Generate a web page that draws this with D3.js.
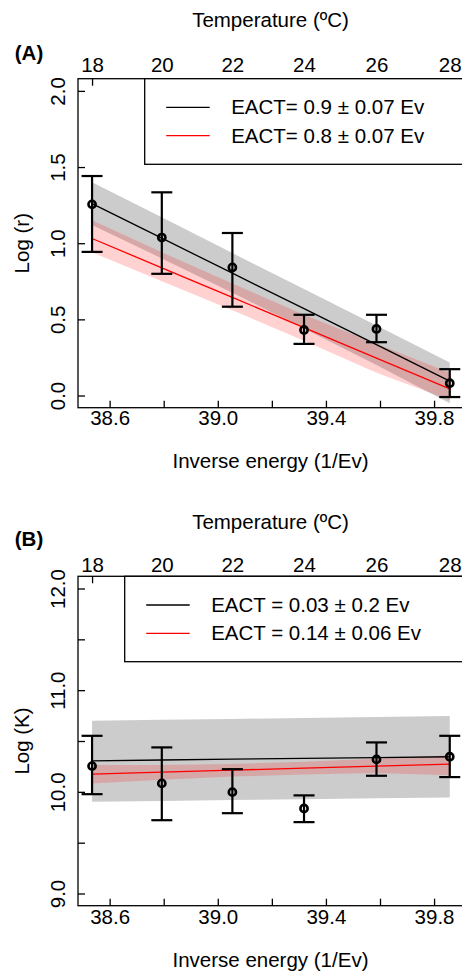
<!DOCTYPE html>
<html>
<head>
<meta charset="utf-8">
<script src="https://cdn.jsdelivr.net/npm/d3@7"></script>
<style>
  body { margin: 0; background: #fff; }
  svg { display: block; font-family: "Liberation Sans", Arial, sans-serif; }
</style>
</head>
<body>
<div id="chart"></div>
<script>
// x positions of the six temperatures (inverse energy, 1/Ev) and top-axis labels
var invEnergy = [38.535, 38.793, 39.054, 39.319, 39.587, 39.858];
var tempLabels = [18, 20, 22, 24, 26, 28];
var xTicks = [38.6, 38.8, 39.0, 39.2, 39.4, 39.6, 39.8];
var xTickLabels = ["38.6", "", "39.0", "", "39.4", "", "39.8"];

// panel A : Log (r)
var rMean  = [1.255, 1.037, 0.841, 0.430, 0.437, 0.081];
var rHigh  = [1.441, 1.334, 1.067, 0.530, 0.530, 0.173];
var rLow   = [0.943, 0.799, 0.583, 0.339, 0.350, -0.010];
var rFitBlack = [1.260, 1.033, 0.803, 0.570, 0.334, 0.095];
var rBandBlackHi = [1.400, 1.170, 0.935, 0.700, 0.460, 0.216];
var rBandBlackLo = [1.120, 0.900, 0.675, 0.440, 0.200, -0.050];
var rFitRed = [1.031, 0.838, 0.644, 0.446, 0.246, 0.044];
var rBandRedHi = [1.150, 0.940, 0.735, 0.530, 0.340, 0.150];
var rBandRedLo = [0.940, 0.750, 0.560, 0.360, 0.150, -0.030];
var rTicks = [0, 0.5, 1.0, 1.5, 2.0];
var rTickLabels = ["0.0", "0.5", "1.0", "1.5", "2.0"];
var legendA = ["EACT= 0.9 \u00b1 0.07 Ev", "EACT= 0.8 \u00b1 0.07 Ev"];

// panel B : Log (K)
var kMean  = [10.253, 10.083, 9.997, 9.836, 10.319, 10.345];
var kHigh  = [10.551, 10.437, 10.223, 9.965, 10.486, 10.551];
var kLow   = [9.977, 9.721, 9.790, 9.702, 10.158, 10.145];
var kFitBlack = [10.305, 10.313, 10.321, 10.329, 10.337, 10.345];
var kBandBlackHi = [10.699, 10.708, 10.717, 10.727, 10.736, 10.745];
var kBandBlackLo = [9.902, 9.910, 9.919, 9.928, 9.936, 9.945];
var kFitRed = [10.174, 10.193, 10.213, 10.233, 10.253, 10.273];
var kBandRedHi = [10.263, 10.265, 10.275, 10.295, 10.325, 10.361];
var kBandRedLo = [10.083, 10.120, 10.150, 10.170, 10.185, 10.164];
var kTicks = [9.0, 9.5, 10.0, 10.5, 11.0, 11.5, 12.0];
var kTickLabels = ["9.0", "", "10.0", "", "11.0", "", "12.0"];
var legendB = ["EACT = 0.03 \u00b1 0.2 Ev", "EACT = 0.14 \u00b1 0.06 Ev"];

var W = 462, H = 972, fs = 20.5;

var svg = d3.select("#chart").append("svg")
    .attr("width", W)
    .attr("height", H);

function panel(opt) {
  var x = d3.scaleLinear().domain([38.483, 39.907]).range([78, 463]);
  var y = d3.scaleLinear().domain(opt.ydom).range([opt.bottom, opt.top]);
  var g = svg.append("g");

  // confidence bands
  var area = function(hi, lo) {
    return d3.area()
      .x(function(d, i) { return x(invEnergy[i]); })
      .y0(function(d, i) { return y(lo[i]); })
      .y1(function(d, i) { return y(hi[i]); })(invEnergy);
  };
  g.append("path").attr("d", area(opt.bandBHi, opt.bandBLo))
      .attr("fill", "#cccccc");
  g.append("path").attr("d", area(opt.bandRHi, opt.bandRLo))
      .attr("fill", "rgba(255,0,0,0.18)");

  // fitted lines
  var line = function(v) {
    return d3.line()
      .x(function(d, i) { return x(invEnergy[i]); })
      .y(function(d, i) { return y(v[i]); })(invEnergy);
  };
  g.append("path").attr("d", line(opt.fitB)).attr("fill", "none")
      .attr("stroke", "#000").attr("stroke-width", 1.3);
  g.append("path").attr("d", line(opt.fitR)).attr("fill", "none")
      .attr("stroke", "#ff0000").attr("stroke-width", 1.3);

  // error bars
  invEnergy.forEach(function(e, i) {
    var cx = x(e);
    g.append("line").attr("x1", cx).attr("x2", cx)
        .attr("y1", y(opt.hi[i])).attr("y2", y(opt.lo[i]))
        .attr("stroke", "#000").attr("stroke-width", 2.2);
    [opt.hi[i], opt.lo[i]].forEach(function(v) {
      g.append("line").attr("x1", cx - 10.5).attr("x2", cx + 10.5)
          .attr("y1", y(v)).attr("y2", y(v))
          .attr("stroke", "#000").attr("stroke-width", 2.2);
    });
  });
  g.selectAll(".pt").data(opt.mean).enter().append("circle")
      .attr("cx", function(d, i) { return x(invEnergy[i]); })
      .attr("cy", function(d) { return y(d); })
      .attr("r", 3.6)
      .attr("fill", "none").attr("stroke", "#000").attr("stroke-width", 2.6);

  // frame
  g.append("rect").attr("x", 78).attr("y", opt.top)
      .attr("width", 385).attr("height", opt.bottom - opt.top)
      .attr("fill", "none").attr("stroke", "#000").attr("stroke-width", 1.3);

  // bottom axis
  var ax = g.append("g").attr("transform", "translate(0," + opt.bottom + ")")
      .call(d3.axisBottom(x).tickValues(xTicks).tickSizeInner(-7).tickSizeOuter(0)
        .tickFormat(function(d, i) { return xTickLabels[i]; }));
  ax.select(".domain").remove();
  ax.selectAll("line").attr("stroke-width", 1.3);
  ax.selectAll("text").attr("font-size", fs).attr("fill", "#000")
      .attr("y", opt.xlab - 7).attr("dy", "0.35em");

  // top axis (temperature)
  var at = g.append("g").attr("transform", "translate(0," + opt.top + ")")
      .call(d3.axisTop(x).tickValues(invEnergy).tickSizeInner(-7).tickSizeOuter(0)
        .tickFormat(function(d, i) { return tempLabels[i]; }));
  at.select(".domain").remove();
  at.selectAll("line").attr("stroke-width", 1.3);
  at.selectAll("text").attr("font-size", fs).attr("fill", "#000")
      .attr("y", -opt.tlab + 7).attr("dy", "0.35em");

  // left axis, rotated labels
  var ay = g.append("g").attr("transform", "translate(78,0)")
      .call(d3.axisLeft(y).tickValues(opt.yticks).tickSizeInner(-7).tickSizeOuter(0)
        .tickFormat(function(d, i) { return opt.ylabels[i]; }));
  ay.select(".domain").remove();
  ay.selectAll("line").attr("stroke-width", 1.3);
  ay.selectAll("text").attr("font-size", fs).attr("fill", "#000")
      .attr("x", null).attr("dy", null)
      .attr("text-anchor", "middle")
      .attr("transform", "translate(-20,0) rotate(-90)")
      .attr("dy", "0.35em");

  // titles
  g.append("text").attr("x", 270.5).attr("y", opt.top - opt.ttitle)
      .attr("dy", "0.35em").attr("text-anchor", "middle").attr("font-size", fs)
      .text("Temperature (\u00baC)");
  g.append("text").attr("x", 270.5).attr("y", opt.bottom + opt.xtitle)
      .attr("dy", "0.35em").attr("text-anchor", "middle").attr("font-size", fs)
      .text("Inverse energy (1/Ev)");
  g.append("text")
      .attr("transform", "translate(22," + ((opt.top + opt.bottom) / 2) + ") rotate(-90)")
      .attr("dy", "0.35em").attr("text-anchor", "middle").attr("font-size", fs)
      .text(opt.ytitle);
  g.append("text").attr("x", 29).attr("y", opt.tag)
      .attr("dy", "0.35em").attr("text-anchor", "middle").attr("font-size", fs)
      .attr("font-weight", "bold").text(opt.tagText);

  // legend
  g.append("rect").attr("x", opt.legX).attr("y", opt.top)
      .attr("width", 480 - opt.legX).attr("height", opt.legH)
      .attr("fill", "#fff").attr("stroke", "#000").attr("stroke-width", 1.3);
  ["#000", "#ff0000"].forEach(function(c, i) {
    var ly = opt.top + opt.legY[i];
    g.append("line").attr("x1", opt.legX + 21.5).attr("x2", opt.legX + 65)
        .attr("y1", ly).attr("y2", ly).attr("stroke", c).attr("stroke-width", 1.3);
    g.append("text").attr("x", opt.legX + 86.5).attr("y", ly)
        .attr("dy", "0.35em").attr("font-size", fs).text(opt.legend[i]);
  });
}

panel({
  ydom: [-0.08, 2.08], top: 78.7, bottom: 407.7,
  mean: rMean, hi: rHigh, lo: rLow,
  fitB: rFitBlack, bandBHi: rBandBlackHi, bandBLo: rBandBlackLo,
  fitR: rFitRed, bandRHi: rBandRedHi, bandRLo: rBandRedLo,
  yticks: rTicks, ylabels: rTickLabels, ytitle: "Log (r)",
  xlab: 17.3, xtitle: 53, tlab: 20.9, ttitle: 58.7,
  tag: 52.5, tagText: "(A)",
  legX: 144.7, legH: 85.6, legY: [28.6, 57], legend: legendA
});

panel({
  ydom: [8.88, 12.12], top: 576.3, bottom: 905.7,
  mean: kMean, hi: kHigh, lo: kLow,
  fitB: kFitBlack, bandBHi: kBandBlackHi, bandBLo: kBandBlackLo,
  fitR: kFitRed, bandRHi: kBandRedHi, bandRLo: kBandRedLo,
  yticks: kTicks, ylabels: kTickLabels, ytitle: "Log (K)",
  xlab: 18.5, xtitle: 54.3, tlab: 18, ttitle: 54.8,
  tag: 539, tagText: "(B)",
  legX: 124.7, legH: 85.4, legY: [28.7, 57], legend: legendB
});
</script>
</body>
</html>
